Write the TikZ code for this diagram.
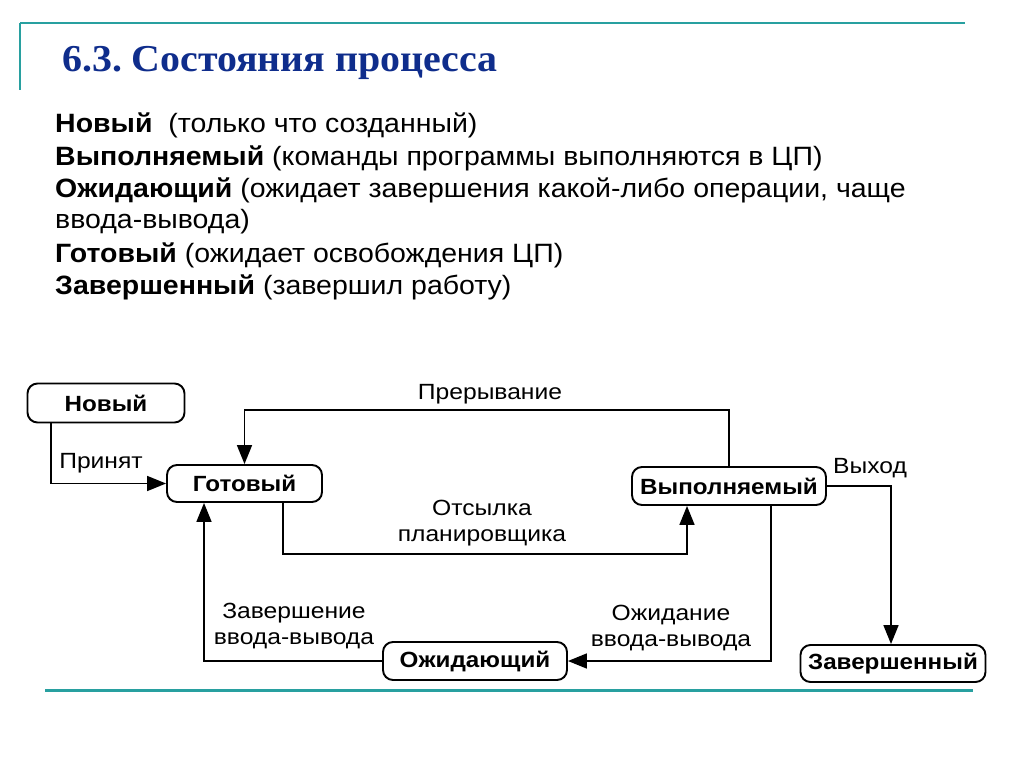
\documentclass[tikz,border=0pt]{standalone}
\usepackage{fontspec}
\setmainfont{Liberation Sans}[FakeStretch=1.075]
\newfontfamily\titlefont{Liberation Serif}[FakeStretch=1.05]
\newfontfamily\statefont{Liberation Sans}[FakeStretch=1.1]
\newfontfamily\lblfont{Liberation Sans}[FakeStretch=1.12]
\usetikzlibrary{arrows.meta,positioning,calc}
\definecolor{tealline}{RGB}{40,160,160}
\definecolor{titleblue}{RGB}{15,45,140}
\tikzset{
  stbox/.style={draw, line width=1.9pt, rounded corners=10pt, inner sep=0pt,
    font=\statefont\fontsize{22}{24}\selectfont\bfseries, text=black},
  conn/.style={line width=1.7pt, -{Triangle[length=19pt,width=15pt]}},
  elabel/.style={font=\lblfont\fontsize{22}{26.5}\selectfont, align=center, inner sep=0pt},
  bodyline/.style={anchor=base west, inner sep=0pt, font=\fontsize{26.5}{30}\selectfont}
}
\begin{document}
\begin{tikzpicture}[x=1pt,y=-1pt]
\useasboundingbox (0,0) rectangle (1024,767);
\fill[white] (0,0) rectangle (1024,767);
% frame lines
\draw[tealline, line width=2.5pt] (20,23) -- (965,23);
\draw[tealline, line width=1.5pt] (20,23) -- (20,90);
\draw[tealline, line width=3pt] (45,690) -- (973,690);
% title
\node[anchor=base west, inner sep=0pt, text=titleblue,
  font=\titlefont\fontsize{38}{40}\selectfont\bfseries] (title) at (62,72) {6.3.\hspace{0.25em}Состояния процесса};
% body text
\node[bodyline] (l1) at (55,133) {\textbf{Новый}\ \ (только что созданный)};
\node[bodyline] (l2) at (55,166) {\textbf{Выполняемый} (команды программы выполняются в ЦП)};
\node[bodyline] (l3) at (55,198) {\textbf{Ожидающий} (ожидает завершения какой-либо операции, чаще};
\node[bodyline] (l4) at (55,229) {ввода-вывода)};
\node[bodyline] (l5) at (55,262) {\textbf{Готовый} (ожидает освобождения ЦП)};
\node[bodyline] (l6) at (55,294) {\textbf{Завершенный} (завершил работу)};
% states
\node[stbox, minimum width=157pt, minimum height=39pt] (new) at (106,403) {Новый};
\node[stbox, minimum width=155pt, minimum height=37pt] (ready) at (244.5,483.5) {Готовый};
\node[stbox, minimum width=194pt, minimum height=38pt] (run) at (729,486) {Выполняемый};
\node[stbox, minimum width=184pt, minimum height=38pt] (wait) at (475,661) {Ожидающий};
\node[stbox, minimum width=185pt, minimum height=37pt] (done) at (893,663.5) {Завершенный};
% connectors
\draw[conn] ([xshift=-55pt]new.south) |- (ready.west);
\draw[conn] (run.north) -- ++(0,-56) -| (ready.north);
\draw[conn] ([xshift=38.5pt]ready.south) -- ++(0,51) -| ([xshift=-42pt]run.south);
\draw[conn] ([xshift=42pt]run.south) |- (wait.east);
\draw[conn] (wait.west) -| ([xshift=-40.5pt]ready.south);
\draw[conn] (run.east) -| ([xshift=-2pt]done.north);
% labels
\node[elabel] (lacc) at (101,463) {Принят};
\node[elabel] (lint) at (490,394) {Прерывание};
\node[elabel] (lsch) at (482,523) {Отсылка\\планировщика};
\node[elabel] (lwio) at (671,628) {Ожидание\\ввода-вывода};
\node[elabel] (lfio) at (294,626) {Завершение\\ввода-вывода};
\node[elabel] (lexit) at (870,468) {Выход};
\end{tikzpicture}
\end{document}
